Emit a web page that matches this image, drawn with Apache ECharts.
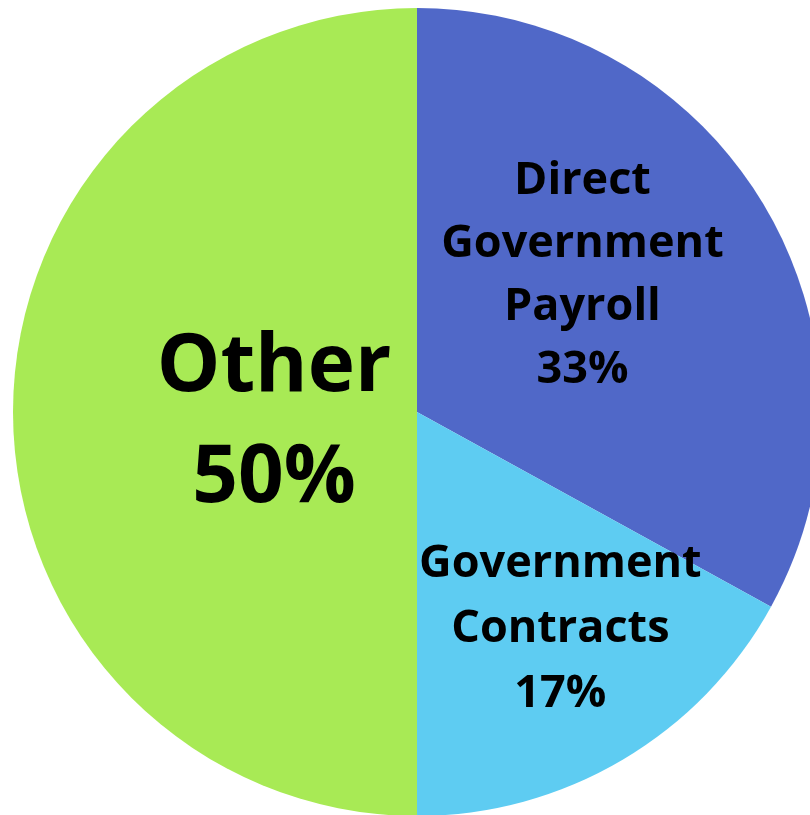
<!DOCTYPE html>
<html><head><meta charset="utf-8">
<script src="https://cdn.jsdelivr.net/npm/echarts@6/dist/echarts.min.js"></script>
<style>html,body{margin:0;padding:0;background:#fff}#c{width:810px;height:815px}</style>
</head><body><div id="c"></div>
<script>
const categories = ["Direct\nGovernment\nPayroll", "Government\nContracts", "Other"];
const values = [33, 17, 50];
const colors = ["#5068C8", "#5ECCF2", "#A8EA55"];
const labelSizes = [45, 45, 80];
const labelLineHeights = [63, 65, 111];
const labelShift = [[-11, -32], [39, 41], [62, 12]];

const chart = echarts.init(document.getElementById('c'), null, {renderer: 'canvas'});
chart.setOption({
  animation: false,
  backgroundColor: '#ffffff',
  series: [{
    type: 'pie',
    center: [417, 412],
    radius: [0, 404],
    startAngle: 90,
    clockwise: true,
    avoidLabelOverlap: false,
    itemStyle: {borderWidth: 0},
    labelLine: {show: false},
    label: {
      show: true,
      position: 'inside',
      formatter: '{b}\n{c}%',
      color: '#000',
      fontFamily: 'Open Sans',
      fontWeight: 'bold',
      align: 'center'
    },
    labelLayout: function (p) {
      const s = labelShift[p.dataIndex];
      return {dx: s[0], dy: s[1]};
    },
    data: categories.map((n, i) => ({
      name: n,
      value: values[i],
      itemStyle: {color: colors[i]},
      label: {fontSize: labelSizes[i], lineHeight: labelLineHeights[i]}
    }))
  }]
});
</script></body></html>
